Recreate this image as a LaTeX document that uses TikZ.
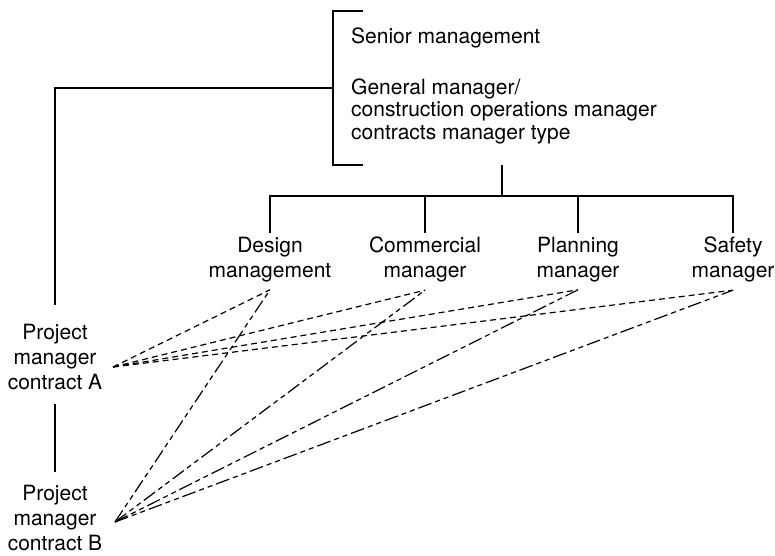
\documentclass[tikz,border=0pt]{standalone}
\usepackage{fontspec}
\setmainfont{TeX Gyre Heros}
\begin{document}
\begin{tikzpicture}[x=1pt,y=-1pt,
  lbl/.style={font=\fontsize{21}{25}\selectfont, align=center, inner sep=0pt, anchor=north},
  toptext/.style={font=\fontsize{21}{22.5}\selectfont, align=left, inner sep=0pt, anchor=north west},
  solidline/.style={line width=1.2pt},
  linkA/.style={line width=1.2pt, dash pattern=on 6pt off 4pt},
  linkB/.style={line width=1.2pt, dash pattern=on 14pt off 4pt on 5pt off 4pt on 5pt off 4pt}]
\useasboundingbox (0,0) rectangle (775,555);

% senior level text
\node[toptext, anchor=base west] (senior) at (351,43) {Senior management};
\node[toptext] (gm) at (351,78.5) {General manager/\\construction operations manager\\contracts manager type};

% functional managers
\node[lbl] (design) at (270,236.5) {Design\\management};
\node[lbl] (commercial) at (425,236.5) {Commercial\\manager};
\node[lbl] (planning) at (578,236.5) {Planning\\manager};
\node[lbl] (safety) at (733,236.5) {Safety\\manager};

% project managers
\node[lbl] (pmA) at (55,324) {Project\\manager\\contract A};
\node[lbl] (pmB) at (55,485) {Project\\manager\\contract B};

% bracket around the senior level
\coordinate (brTR) at (363,11);
\coordinate (brTL) at (333,11);
\coordinate (brBL) at (333,165);
\coordinate (brBR) at (363,165);
\coordinate (brJoin) at (333,88);
\draw[solidline] (brTR) -- (brTL) -- (brBL) -- (brBR);

% line-management links
\draw[solidline] (brJoin) -| ([yshift=19pt]pmA.north);
\draw[solidline] ([yshift=-14pt]pmA.south) -- ([yshift=13pt]pmB.north);

\coordinate (hubTop) at (502,165);
\coordinate (hub) at (502,196);
\draw[solidline] (hubTop) -- (hub);
\draw[solidline] ([yshift=3.5pt]design.north) |- (hub) -| ([yshift=3.5pt]safety.north);
\draw[solidline] (commercial.north |- hub) -- ([yshift=3.5pt]commercial.north);
\draw[solidline] (planning.north |- hub) -- ([yshift=3.5pt]planning.north);

% functional links
\coordinate (pa) at (113,367);
\coordinate (pb) at (115,522);
\coordinate (dEnd) at ([yshift=-8pt]design.south);
\coordinate (cEnd) at ([yshift=-8pt]commercial.south);
\coordinate (pEnd) at ([yshift=-8pt]planning.south);
\coordinate (sEnd) at ([yshift=-8pt]safety.south);
\foreach \t in {dEnd,cEnd,pEnd,sEnd}{
  \draw[linkA] (pa) -- (\t);
  \draw[linkB] (pb) -- (\t);
}
\end{tikzpicture}
\end{document}
